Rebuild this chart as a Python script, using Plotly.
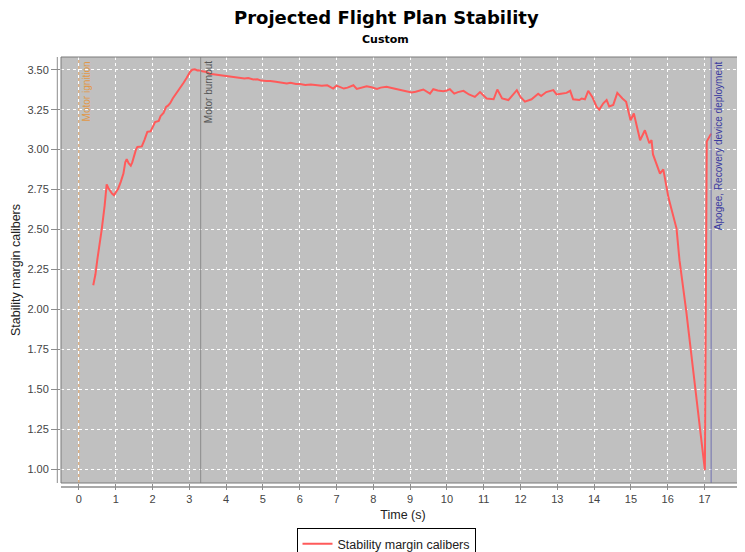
import plotly.graph_objects as go

# ---- data ----
time_s = [
    0.39, 0.45, 0.50, 0.56, 0.62, 0.70, 0.755, 0.80, 0.85, 0.90, 0.954, 1.00, 1.07, 1.14, 1.21, 1.26, 1.30,
    1.35, 1.41, 1.45, 1.50, 1.55, 1.59, 1.65, 1.71, 1.78, 1.86, 1.95, 2.00, 2.07, 2.17, 2.22, 2.30, 2.37,
    2.42, 2.48, 2.55, 2.61, 2.69, 2.77, 2.85, 2.93, 3.02, 3.08, 3.15, 3.22, 3.29,
    3.35, 3.47, 3.55, 3.65, 3.74, 3.85, 3.95, 4.05, 4.20, 4.29, 4.40, 4.50, 4.60, 4.74, 4.85, 4.95, 5.10,
    5.20, 5.35, 5.50, 5.65, 5.75, 5.90, 6.01, 6.15, 6.30, 6.46, 6.60, 6.75, 6.91, 7.00, 7.10, 7.20, 7.30,
    7.46, 7.55, 7.65, 7.82, 7.95, 8.10, 8.20, 8.36, 8.50, 8.65, 8.82, 8.95, 9.04, 9.15, 9.27,
    9.36, 9.54, 9.63, 9.75, 9.90, 10.00, 10.08, 10.20, 10.30, 10.45, 10.60, 10.76, 10.90, 11.08, 11.27,
    11.37, 11.50, 11.67, 11.75, 11.90, 12.00, 12.12, 12.30, 12.48, 12.56, 12.70, 12.89, 12.98, 13.10,
    13.25, 13.35, 13.43, 13.60, 13.66, 13.75, 13.84, 13.95, 14.07, 14.14, 14.25, 14.34, 14.41, 14.52,
    14.63, 14.77, 14.87, 14.99, 15.08, 15.25, 15.38, 15.50, 15.56, 15.60, 15.79, 15.88, 16.02, 16.24,
    16.32, 16.50, 16.74, 17.01, 17.06, 17.18,
]
stability_cal = [
    2.151, 2.22, 2.31, 2.40, 2.50, 2.65, 2.783, 2.76, 2.74, 2.725, 2.715, 2.73, 2.757, 2.80, 2.85, 2.92, 2.94,
    2.915, 2.90, 2.92, 2.965, 3.00, 3.017, 3.02, 3.02, 3.06, 3.111, 3.115, 3.14, 3.173, 3.18, 3.21, 3.23, 3.267,
    3.275, 3.29, 3.32, 3.34, 3.36, 3.39, 3.42, 3.45, 3.486, 3.50, 3.503, 3.495, 3.497,
    3.49, 3.486, 3.475, 3.472, 3.472, 3.465, 3.462, 3.458, 3.455, 3.451, 3.45, 3.445, 3.448, 3.439, 3.44, 3.432, 3.430,
    3.43, 3.425, 3.42, 3.414, 3.418, 3.41, 3.41, 3.405, 3.407, 3.403, 3.40, 3.402, 3.382, 3.40, 3.39, 3.382, 3.388,
    3.403, 3.38, 3.385, 3.397, 3.39, 3.38, 3.388, 3.393, 3.385, 3.378, 3.37, 3.365, 3.357, 3.362, 3.37,
    3.376, 3.35, 3.378, 3.37, 3.365, 3.37, 3.378, 3.35, 3.36, 3.368, 3.345, 3.33, 3.36, 3.32, 3.315,
    3.376, 3.32, 3.31, 3.33, 3.372, 3.33, 3.30, 3.315, 3.35, 3.335, 3.36, 3.372, 3.345, 3.35,
    3.355, 3.368, 3.315, 3.31, 3.32, 3.315, 3.368, 3.33, 3.267, 3.25, 3.29, 3.31, 3.27, 3.28,
    3.355, 3.32, 3.30, 3.184, 3.226, 3.059, 3.121, 3.04, 3.06, 2.97, 2.85, 2.876, 2.70, 2.506,
    2.308, 1.995, 1.515, 0.994, 3.05, 3.10,
]

event_names = ["Motor ignition", "Motor burnout", "Apogee, Recovery device deployment"]
event_times = [0.0, 3.31, 17.18]
event_line_colors = ["#E8A868", "#8A8A8A", "#7070B0"]
event_text_colors = ["#E09848", "#555555", "#3A3AA0"]
event_dash = ["dot", "solid", "solid"]

x_tick_vals = list(range(0, 19))
y_tick_vals = [1.00, 1.25, 1.50, 1.75, 2.00, 2.25, 2.50, 2.75, 3.00, 3.25, 3.50]

# ---- layout geometry (page pixels; the page body adds an 8px offset) ----
OFF = 8
PAGE_W, PAGE_H = 745, 552
PLOT_L, PLOT_R, PLOT_T, PLOT_B = 61, 745, 57, 483   # target plot box on the page
W, H = PAGE_W - OFF, PAGE_H - OFF
ML, MT = PLOT_L - OFF, PLOT_T - OFF
MR = W - (PLOT_R - OFF)
MB = H - (PLOT_B - OFF)
PW, PH = PLOT_R - PLOT_L, PLOT_B - PLOT_T


def px(xp):
    return (xp - PLOT_L) / PW


def py(yp):
    return (PLOT_B - yp) / PH


fig = go.Figure()
fig.add_trace(go.Scatter(
    x=time_s, y=stability_cal, mode="lines", name="Stability margin calibers",
    line=dict(color="#FF5A5A", width=2),
))

shapes = []
annotations = []
for name, t, lc, tc, dash in zip(event_names, event_times, event_line_colors, event_text_colors, event_dash):
    shapes.append(dict(type="line", xref="x", yref="paper", x0=t, x1=t, y0=0, y1=1,
                       line=dict(color=lc, width=1, dash=dash), layer="above"))
    annotations.append(dict(text=name, x=t, xref="x", y=1, yref="paper", yshift=-2,
                            xanchor="left", yanchor="top", textangle=-90, showarrow=False,
                            font=dict(family="Liberation Sans, Arial, sans-serif", size=10, color=tc)))

# offset axis lines (JFreeChart style)
shapes.append(dict(type="line", xref="paper", yref="paper", x0=px(57.3), x1=px(57.3), y0=0, y1=1,
                   line=dict(color="#8C8C8C", width=1)))
shapes.append(dict(type="line", xref="paper", yref="paper", x0=0, x1=1, y0=py(487), y1=py(487),
                   line=dict(color="#8C8C8C", width=1.5)))
# plot border
shapes.append(dict(type="rect", xref="paper", yref="paper", x0=0, x1=1, y0=0, y1=1,
                   line=dict(color="#7A7A7A", width=1), layer="above"))

annotations.append(dict(text="Projected Flight Plan Stability", xref="paper", yref="paper",
                        x=px(386), y=py(18), xanchor="center", yanchor="middle",
                        showarrow=False,
                        font=dict(family="DejaVu Sans", size=18, color="#000000", weight="bold")))
annotations.append(dict(text="Custom", xref="paper", yref="paper",
                        x=px(385), y=py(40), xanchor="center", yanchor="middle",
                        showarrow=False,
                        font=dict(family="DejaVu Sans", size=11, color="#000000", weight="bold")))

fig.update_layout(
    width=W, height=H,
    margin=dict(l=ML, r=MR, t=MT, b=MB, pad=0, autoexpand=False),
    paper_bgcolor="#FFFFFF", plot_bgcolor="#C0C0C0",
    font=dict(family="Liberation Sans, Arial, sans-serif", color="#333333"),
    showlegend=True,
    legend=dict(orientation="h", x=px(386), xanchor="center", y=py(528), yanchor="top",
                bordercolor="#000000", borderwidth=1, bgcolor="#FFFFFF",
                font=dict(size=12.5, color="#222222"), itemwidth=30),
    shapes=shapes,
    annotations=annotations,
)
fig.update_xaxes(
    range=[-0.486, 18.10], tickmode="array", tickvals=x_tick_vals,
    ticktext=[str(v) for v in x_tick_vals], automargin=False,
    showgrid=True, gridcolor="#FFFFFF", griddash="3px,3px", gridwidth=1,
    zeroline=False, showline=False, ticks="outside", ticklen=6, tickcolor="#8C8C8C",
    tickfont=dict(size=11, color="#444444"),
    title=dict(text="Time (s)", font=dict(size=12.5, color="#222222"), standoff=6),
)
fig.update_yaxes(
    range=[0.914, 3.5795], tickmode="array", tickvals=y_tick_vals,
    ticktext=[f"{v:.2f}" for v in y_tick_vals], automargin=False,
    showgrid=True, gridcolor="#FFFFFF", griddash="3px,3px", gridwidth=1,
    zeroline=False, showline=False, ticks="outside", ticklen=9, tickcolor="#8C8C8C",
    tickfont=dict(size=11, color="#444444"),
    title=dict(text="Stability margin calibers", font=dict(size=12.5, color="#222222"), standoff=4),
)

fig.write_html("out.html")
